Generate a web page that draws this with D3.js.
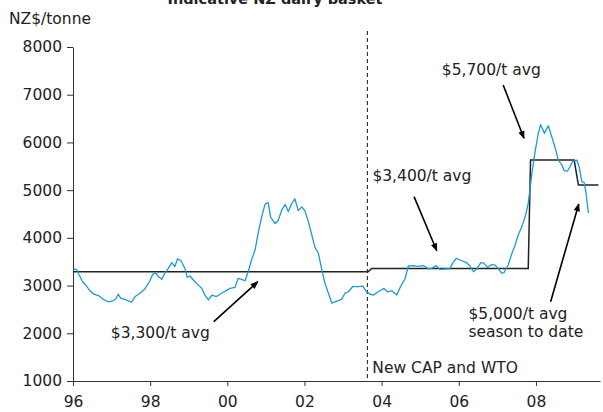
<!DOCTYPE html>
<html>
<head>
<meta charset="utf-8">
<script src="https://cdn.jsdelivr.net/npm/d3@7"></script>
<style>
  html, body { margin: 0; padding: 0; background: #fff; }
  svg { display: block; }
  text { font-family: "DejaVu Sans", Verdana, sans-serif; fill: #222; }
</style>
</head>
<body>
<div id="chart"></div>
<script>
// ---- data ----
const title = "Indicative NZ dairy basket";
const yLabel = "NZ$/tonne";
const dates = [1996.01,1996.10,1996.16,1996.25,1996.36,1996.44,1996.54,1996.66,1996.79,1996.91,
  1997.04,1997.11,1997.17,1997.24,1997.35,1997.43,1997.52,1997.61,1997.74,1997.87,1997.98,
  1998.07,1998.15,1998.21,1998.30,1998.38,1998.47,1998.56,1998.64,1998.71,1998.80,1998.90,1998.96,
  1999.03,1999.16,1999.25,1999.34,1999.42,1999.51,1999.60,1999.72,1999.85,1999.98,
  2000.07,2000.20,2000.28,2000.37,2000.46,2000.54,2000.63,2000.72,2000.80,2000.89,2000.98,
  2001.06,2001.12,2001.24,2001.32,2001.41,2001.50,2001.58,2001.67,2001.75,2001.84,2001.93,
  2002.01,2002.10,2002.19,2002.27,2002.36,2002.45,2002.53,2002.62,2002.71,2002.79,2002.96,
  2003.05,2003.14,2003.25,2003.40,2003.51,2003.61,2003.70,2003.78,2003.91,
  2004.06,2004.15,2004.26,2004.39,2004.49,2004.61,2004.69,2004.82,2004.95,
  2005.08,2005.21,2005.30,2005.41,2005.51,2005.67,2005.77,2005.84,2005.93,
  2006.08,2006.20,2006.29,2006.38,2006.46,2006.57,2006.65,2006.74,2006.85,2006.94,
  2007.02,2007.11,2007.17,2007.28,2007.37,2007.46,2007.54,2007.63,2007.72,2007.80,2007.89,2007.97,
  2008.06,2008.12,2008.22,2008.32,2008.41,2008.49,2008.58,2008.67,2008.73,2008.82,2008.88,2008.95,
  2009.06,2009.12,2009.19,2009.25,2009.30,2009.36];
const prices = [3360,3330,3220,3080,2980,2890,2820,2790,2710,2660,
  2680,2720,2820,2730,2710,2680,2650,2770,2840,2940,3080,
  3240,3260,3190,3130,3260,3360,3480,3400,3560,3520,3360,3170,
  3200,3080,3010,2940,2800,2700,2800,2770,2840,2900,
  2940,2960,3150,3130,3100,3290,3540,3750,4100,4440,4710,
  4740,4440,4300,4370,4580,4700,4550,4720,4820,4570,4650,
  4570,4340,4060,3800,3680,3330,3050,2840,2630,2660,2710,
  2840,2870,2980,2980,2990,2870,2820,2800,2870,
  2940,2870,2890,2800,2980,3150,3410,3420,3400,
  3420,3350,3360,3420,3340,3350,3350,3470,3570,
  3520,3480,3410,3290,3340,3480,3470,3380,3440,3430,
  3360,3260,3270,3430,3660,3850,4060,4230,4440,4720,5320,5770,
  6190,6370,6190,6350,6120,5910,5630,5530,5410,5400,5490,5600,
  5630,5490,5180,5160,4930,4520];
const avgDates  = [1996.00, 2003.65, 2003.74, 2007.80, 2007.86, 2008.99, 2009.10, 2009.62];
const avgValues = [3290,    3290,    3360,    3360,    5630,    5630,    5110,    5110];
const cutoffDate = 2003.63;
const cutoffLabel = "New CAP and WTO";
const yTicks = [1000,2000,3000,4000,5000,6000,7000,8000];
const xTicks = [1996,1998,2000,2002,2004,2006,2008];
const xTickLabels = ["96","98","00","02","04","06","08"];
const notes = [
  {lines:["$3,300/t avg"], tx:1996.98, ty:1900, from:[1999.65,2243], to:[2000.79,3081]},
  {lines:["$3,400/t avg"], tx:2003.76, ty:5190, from:[2004.84,4863], to:[2005.43,3731]},
  {lines:["$5,700/t avg"], tx:2005.56, ty:7410, from:[2007.15,7204], to:[2007.69,6087]},
  {lines:["$5,000/t avg","season to date"], tx:2006.25, ty:2300, from:[2008.38,2662], to:[2009.11,4710]}
];

// ---- chart ----
const W = 603, H = 412, FS = 15.5;
const svg = d3.select("#chart").append("svg").attr("width", W).attr("height", H);

const x = d3.scaleLinear().domain([1996, 2009.66]).range([73, 600]);
const y = d3.scaleLinear().domain([1000, 8000]).range([381, 47]);

svg.append("defs").append("marker")
  .attr("id","arr").attr("viewBox","0 0 10 10").attr("refX",9).attr("refY",5)
  .attr("markerWidth",10).attr("markerHeight",8).attr("markerUnits","userSpaceOnUse")
  .attr("orient","auto")
  .append("path").attr("d","M0,1 L10,5 L0,9 Z").attr("fill","#000");

// title (cut off at top, as in the reference)
svg.append("text").attr("x", 275).attr("y", 4).attr("text-anchor","middle")
  .attr("font-weight","bold").attr("font-size", 14.5).text(title);
svg.append("text").attr("x", 9).attr("y", 24).attr("font-size", FS).text(yLabel);

// axes
const yAxis = svg.append("g").attr("transform","translate(73,0)")
  .call(d3.axisLeft(y).tickValues(yTicks).tickFormat(d3.format("d")).tickSize(6).tickSizeOuter(0).tickPadding(5));
const xAxis = svg.append("g").attr("transform","translate(0,381)")
  .call(d3.axisBottom(x).tickValues(xTicks).tickFormat((d,i)=>xTickLabels[i]).tickSize(5).tickSizeOuter(0).tickPadding(10));
[yAxis, xAxis].forEach(g => {
  g.selectAll("text").attr("font-size", FS).style("font-family","DejaVu Sans, Verdana, sans-serif").attr("fill","#222");
  g.selectAll("path,line").attr("stroke","#333");
});

// dashed cutoff
svg.append("line").attr("x1", x(cutoffDate)).attr("x2", x(cutoffDate))
  .attr("y1", 31).attr("y2", 381).attr("stroke","#111").attr("stroke-width",1)
  .attr("stroke-dasharray","4,3");
svg.append("text").attr("x", x(cutoffDate)+5).attr("y", 373).attr("font-size", FS).text(cutoffLabel);

// average line
const avgLine = d3.line().x((d,i)=>x(avgDates[i])).y(d=>y(d));
svg.append("path").attr("d", avgLine(avgValues)).attr("fill","none")
  .attr("stroke","#222").attr("stroke-width",1.5);

// price line
const line = d3.line().x((d,i)=>x(dates[i])).y(d=>y(d));
svg.append("path").attr("d", line(prices)).attr("fill","none")
  .attr("stroke","#1a9bd7").attr("stroke-width",1.3).attr("stroke-linejoin","round");

// annotations
notes.forEach(n => {
  const t = svg.append("text").attr("x", x(n.tx)).attr("y", y(n.ty)).attr("font-size", FS);
  n.lines.forEach((l,i) => t.append("tspan").attr("x", x(n.tx)).attr("dy", i===0?0:18.5).text(l));
  svg.append("line").attr("x1", x(n.from[0])).attr("y1", y(n.from[1]))
    .attr("x2", x(n.to[0])).attr("y2", y(n.to[1]))
    .attr("stroke","#000").attr("stroke-width",1.6).attr("marker-end","url(#arr)");
});
</script>
</body>
</html>
